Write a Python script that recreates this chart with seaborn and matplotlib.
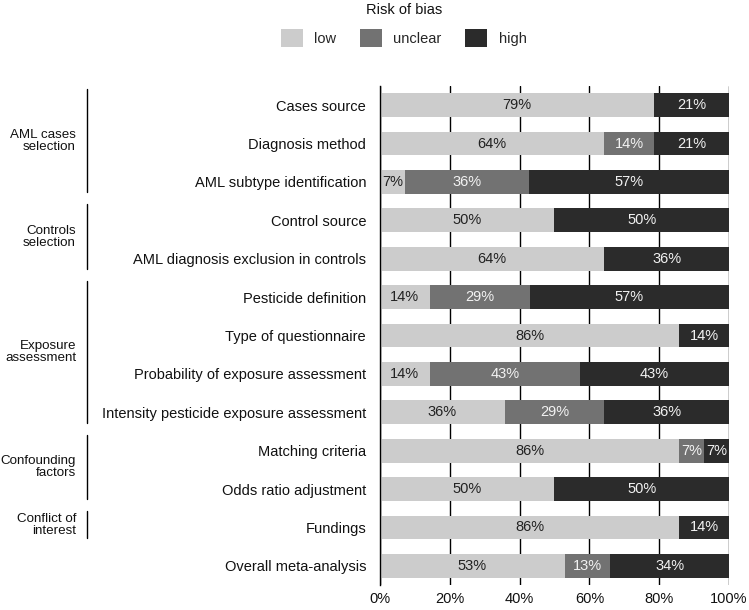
import matplotlib

matplotlib.use("Agg")

import matplotlib.pyplot as plt
import matplotlib.transforms as mtransforms
import pandas as pd
import seaborn as sns
from matplotlib.patches import Patch


# =========================
# Data
# =========================

items = [
    "Cases source",
    "Diagnosis method",
    "AML subtype identification",
    "Control source",
    "AML diagnosis exclusion in controls",
    "Pesticide definition",
    "Type of questionnaire",
    "Probability of exposure assessment",
    "Intensity pesticide exposure assessment",
    "Matching criteria",
    "Odds ratio adjustment",
    "Fundings",
    "Overall meta-analysis",
]

# shares in percent
low = [78.6, 64.3, 7.1, 50.0, 64.3, 14.3, 85.7, 14.3, 35.7, 85.7, 50.0, 85.7, 53.0]
unclear = [0.0, 14.3, 35.7, 0.0, 0.0, 28.6, 0.0, 42.9, 28.6, 7.1, 0.0, 0.0, 13.0]
high = [21.4, 21.4, 57.1, 50.0, 35.7, 57.1, 14.3, 42.9, 35.7, 7.1, 50.0, 14.3, 34.0]

groups = [
    "AML cases\nselection",
    "Controls\nselection",
    "Exposure\nassessment",
    "Confounding\nfactors",
    "Conflict of\ninterest",
]
group_first = [0, 3, 5, 9, 11]
group_last = [2, 4, 8, 10, 11]

levels = ["low", "unclear", "high"]
colors = {"low": "#cccccc", "unclear": "#727272", "high": "#2b2b2b"}
text_colors = {"low": "#222222", "unclear": "#f2f2f2", "high": "#f2f2f2"}


# =========================
# Plot
# =========================

sns.set_style("white")
plt.rcParams["font.family"] = ["Liberation Sans", "DejaVu Sans"]
plt.rcParams["font.size"] = 10.5

df = pd.DataFrame({"item": items, "low": low, "unclear": unclear, "high": high})
df["cum_low"] = df["low"]
df["cum_unclear"] = df["low"] + df["unclear"]
df["cum_high"] = df["low"] + df["unclear"] + df["high"]

fig = plt.figure(figsize=(7.49, 6.10), dpi=100)
ax = fig.add_axes([0.5073, 0.041, 0.466, 0.818])

# stacked bars: draw the longest first, shorter ones on top
for level in ["high", "unclear", "low"]:
    sns.barplot(
        data=df,
        x="cum_" + level,
        y="item",
        orient="h",
        color=colors[level],
        saturation=1,
        width=0.62,
        linewidth=0,
        ax=ax,
    )

# percent labels
for i, row in df.iterrows():
    start = 0.0
    for level in levels:
        val = row[level]
        if val > 0:
            ax.text(
                start + val / 2, i, f"{val:.0f}%",
                ha="center", va="center",
                color=text_colors[level], fontsize=10.5,
            )
        start += val

ax.set_xlim(0, 100)
ax.set_ylim(len(items) - 0.5, -0.5)
ax.set_xticks([0, 20, 40, 60, 80, 100])
ax.set_xticklabels(["0%", "20%", "40%", "60%", "80%", "100%"])
ax.set_xlabel("")
ax.set_ylabel("")
ax.xaxis.grid(True, color="black", linewidth=1)
ax.set_axisbelow(True)
for side in ["top", "right", "bottom"]:
    ax.spines[side].set_visible(False)
ax.spines["left"].set_color("black")
ax.spines["left"].set_linewidth(1)
ax.tick_params(axis="y", length=0, pad=10, labelsize=10.5, colors="#111111")
ax.tick_params(axis="x", length=0, pad=5, labelsize=10.5, colors="#111111")

# group brackets on the left
trans = mtransforms.blended_transform_factory(fig.transFigure, ax.transData)
for name, first, last in zip(groups, group_first, group_last):
    y0, y1 = first - 0.42, last + 0.27
    ax.plot([0.116, 0.116], [y0, y1], color="black", linewidth=1,
            transform=trans, clip_on=False)
    ax.text(0.1015, (y0 + y1) / 2, name, transform=trans, ha="right",
            va="center", linespacing=1.0, fontsize=9.6, color="#111111")

# legend on top
fig.text(0.539, 0.984, "Risk of bias", ha="center", va="center",
         fontsize=10.5, color="#111111")
handles = [Patch(facecolor=colors[lv], edgecolor="none", label=lv) for lv in levels]
fig.legend(
    handles=handles,
    loc="center",
    bbox_to_anchor=(0.539, 0.9377),
    ncol=3,
    frameon=False,
    fontsize=10.5,
    handlelength=1.5,
    handleheight=1.5,
    handletextpad=0.8,
    columnspacing=1.6,
    borderpad=0,
)

plt.savefig("out.png", dpi=100)
plt.close()
